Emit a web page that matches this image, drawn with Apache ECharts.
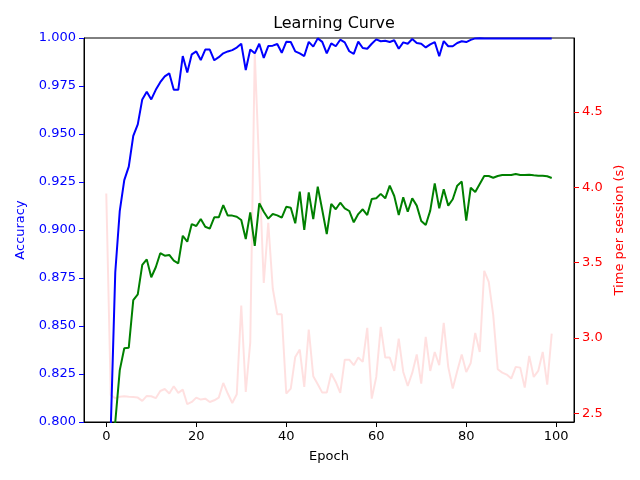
<!DOCTYPE html>
<html>
<head>
<meta charset="utf-8">
<script src="https://cdn.jsdelivr.net/npm/echarts@6/dist/echarts.min.js"></script>
<style>html,body{margin:0;padding:0;background:#fff}#c{width:640px;height:480px}</style>
</head>
<body>
<div id="c"></div>
<script>
var epochs = [];
for (var i = 0; i < 100; i++) epochs.push(i);

var trainAcc = [0.70,0.797,0.878,0.910,0.926,0.933,0.949,0.955,0.968,0.972,
0.968,0.973,0.977,0.980,0.9816,0.973,0.973,0.9906,0.982,0.9915,
0.993,0.9885,0.994,0.994,0.9884,0.990,0.992,0.993,0.9937,0.995,
0.997,0.9833,0.994,0.992,0.997,0.9896,0.9958,0.996,0.9969,0.9923,
0.998,0.9979,0.993,0.992,0.9906,0.998,0.9955,0.9998,0.998,0.992,
0.9972,0.9957,0.9991,0.9977,0.9931,0.9917,0.9981,0.9948,0.9944,0.997,
0.9993,0.9983,0.9986,0.9979,0.9988,0.9944,0.9977,0.997,0.9995,0.9974,
0.997,0.9951,0.9967,0.9979,0.9905,0.9984,0.9957,0.9957,0.9974,0.9983,
0.9979,0.999,0.9998,0.9999,0.9998,0.9998,0.9998,0.9998,0.9998,0.9998,
0.9998,0.9998,0.9998,0.9998,0.9998,0.9998,0.9998,0.9998,0.9998,0.9998];

var valAcc = [0.70,0.76,0.800,0.827,0.8384,0.8387,0.8635,0.8665,0.8818,0.8847,
0.8754,0.8806,0.8879,0.8866,0.887,0.884,0.8826,0.897,0.8939,0.9031,
0.9021,0.9057,0.9017,0.9007,0.9066,0.9066,0.913,0.9075,0.9075,0.9069,
0.9052,0.8953,0.9092,0.8917,0.9139,0.9095,0.9059,0.9083,0.9076,0.9064,
0.9121,0.9116,0.9035,0.920,0.900,0.9196,0.9057,0.9226,0.9104,0.8979,
0.9136,0.9108,0.9142,0.9113,0.9099,0.904,0.9083,0.9108,0.9078,0.9161,
0.9165,0.9188,0.9165,0.9231,0.9177,0.9078,0.917,0.9095,0.9165,0.9127,
0.9047,0.9026,0.9101,0.9243,0.9113,0.9212,0.9127,0.916,0.9231,0.9252,
0.9049,0.922,0.9198,0.924,0.9281,0.9281,0.9272,0.9281,0.9286,0.9286,
0.9286,0.9292,0.9286,0.9286,0.9288,0.9285,0.9283,0.9283,0.928,0.9271];

var timePerSession = [3.959,2.62,2.60,2.61,2.613,2.61,2.608,2.604,2.582,2.615,
2.613,2.600,2.648,2.661,2.631,2.679,2.635,2.657,2.560,2.575,
2.604,2.591,2.597,2.575,2.586,2.604,2.701,2.631,2.568,2.626,
3.215,2.641,2.97,4.889,4.12,3.365,3.764,3.328,3.157,3.157,
2.631,2.664,2.874,2.923,2.675,3.056,2.746,2.693,2.637,2.637,
2.764,2.708,2.635,2.856,2.856,2.819,2.870,2.841,3.067,2.597,
2.741,3.073,2.870,2.870,2.781,2.996,2.774,2.681,2.768,2.890,
2.697,3.007,2.781,2.907,2.819,3.100,2.808,2.664,2.781,2.890,
2.774,2.834,3.033,2.907,3.445,3.372,3.151,2.792,2.770,2.757,
2.730,2.808,2.803,2.670,2.881,2.741,2.781,2.907,2.690,3.029];

var xTicks = [0,20,40,60,80,100];
var rightTicks = [2.5,3.0,3.5,4.0,4.5];

function pairs(ys){ return epochs.map(function(e,i){ return [e, ys[i]]; }); }

var FONT = 'DejaVu Sans';
var chart = echarts.init(document.getElementById('c'), null, {renderer:'canvas'});
chart.setOption({
  animation: false,
  backgroundColor: '#fff',
  title: {
    text: 'Learning Curve', left: 329, top: 11, textAlign: 'center',
    textStyle: {fontFamily: FONT, fontSize: 16, fontWeight: 'normal', color: '#000'}
  },
  grid: {left: 84, right: 66, top: 38, bottom: 58, show: true, borderColor: '#000', borderWidth: 1, containLabel: false},
  xAxis: {
    type: 'value', min: -4.95, max: 103.95,
    name: 'Epoch', nameLocation: 'middle', nameGap: 28,
    nameTextStyle: {fontFamily: FONT, fontSize: 13, color: '#000'},
    axisLine: {onZero: false, lineStyle: {color: '#000', width: 1}},
    axisTick: {customValues: xTicks, length: 5, lineStyle: {color: '#000'}},
    axisLabel: {customValues: xTicks, margin: 8, fontFamily: FONT, fontSize: 13, color: '#000'},
    splitLine: {show: false}
  },
  yAxis: [{
    type: 'value', min: 0.8, max: 1.0, interval: 0.025, position: 'left',
    name: 'Accuracy', nameLocation: 'middle', nameGap: 57,
    nameTextStyle: {fontFamily: FONT, fontSize: 13, color: '#0000ff'},
    axisLine: {show: true, onZero: false, lineStyle: {color: '#000', width: 1}},
    axisTick: {show: true, length: 5, lineStyle: {color: '#0000ff'}},
    axisLabel: {margin: 8, fontFamily: FONT, fontSize: 13, color: '#0000ff',
      formatter: function(v){ return v.toFixed(3); }},
    splitLine: {show: false}
  }, {
    type: 'value', min: 2.442, max: 4.991, position: 'right',
    name: 'Time per session (s)', nameLocation: 'middle', nameGap: 36,
    nameTextStyle: {fontFamily: FONT, fontSize: 13, color: '#ff0000'},
    axisLine: {show: true, onZero: false, lineStyle: {color: '#000', width: 1}},
    axisTick: {show: true, customValues: rightTicks, length: 5, lineStyle: {color: '#ff0000'}},
    axisLabel: {customValues: rightTicks, margin: 8, fontFamily: FONT, fontSize: 13, color: '#ff0000',
      formatter: function(v){ return v.toFixed(1); }},
    splitLine: {show: false}
  }],
  series: [{
    name: 'Time', type: 'line', yAxisIndex: 1, data: pairs(timePerSession),
    showSymbol: false, lineStyle: {color: 'rgba(255,0,0,0.12)', width: 2}, itemStyle: {color: 'rgba(255,0,0,0.12)'}, z: 1
  }, {
    name: 'Train', type: 'line', yAxisIndex: 0, data: pairs(trainAcc),
    showSymbol: false, lineStyle: {color: '#0000ff', width: 2}, itemStyle: {color: '#0000ff'}, z: 3
  }, {
    name: 'Val', type: 'line', yAxisIndex: 0, data: pairs(valAcc),
    showSymbol: false, lineStyle: {color: '#008000', width: 2}, itemStyle: {color: '#008000'}, z: 3
  }]
});
</script>
</body>
</html>
